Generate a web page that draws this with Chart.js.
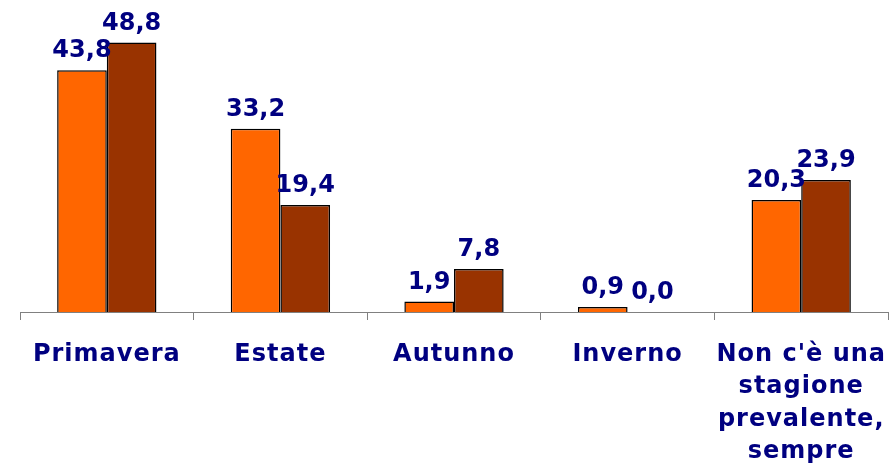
<!DOCTYPE html>
<html>
<head>
<meta charset="utf-8">
<script src="https://cdn.jsdelivr.net/npm/chart.js@4"></script>
<style>
  html, body { margin: 0; padding: 0; background: #fff; }
  #wrap { width: 891px; height: 465px; }
</style>
</head>
<body>
<div id="wrap"><canvas id="seasonChart" width="891" height="465"></canvas></div>
<script>
const categories = [
  "Primavera",
  "Estate",
  "Autunno",
  "Inverno",
  ["Non c'è una", "stagione", "prevalente,", "sempre"]
];
const seriesA = [43.8, 33.2, 1.9, 0.9, 20.3];
const seriesB = [48.8, 19.4, 7.8, 0.0, 23.9];

const NAVY = "#000080";
const FONT = "'DejaVu Sans', Verdana, sans-serif";

// a little extra spacing so DejaVu looks closer to Verdana bold
const spacing = {
  id: "spacing",
  beforeDraw(chart) { chart.ctx.letterSpacing = "1px"; }
};

// write the value above each bar, italian style decimal comma
const valueLabels = {
  id: "valueLabels",
  afterDatasetsDraw(chart) {
    const ctx = chart.ctx;
    ctx.save();
    ctx.letterSpacing = "0px";
    ctx.font = "bold 24px " + FONT;
    ctx.fillStyle = NAVY;
    ctx.textAlign = "center";
    ctx.textBaseline = "alphabetic";
    chart.data.datasets.forEach((ds, di) => {
      chart.getDatasetMeta(di).data.forEach((bar, i) => {
        const txt = ds.data[i].toFixed(1).replace(".", ",");
        ctx.fillText(txt, bar.x, bar.y - 13);
      });
    });
    ctx.restore();
  }
};

new Chart(document.getElementById("seasonChart").getContext("2d"), {
  type: "bar",
  data: {
    labels: categories,
    datasets: [
      {
        data: seriesA,
        backgroundColor: "#FF6600",
        borderColor: "#000000",
        borderWidth: 1.5,
        borderSkipped: "bottom",
        categoryPercentage: 0.572,
        barPercentage: 1
      },
      {
        data: seriesB,
        backgroundColor: "#993300",
        borderColor: "#000000",
        borderWidth: 1.5,
        borderSkipped: "bottom",
        categoryPercentage: 0.572,
        barPercentage: 1
      }
    ]
  },
  options: {
    responsive: false,
    animation: false,
    layout: { padding: { left: 20, right: 3, top: 36, bottom: 0 } },
    plugins: { legend: { display: false }, tooltip: { enabled: false } },
    scales: {
      x: {
        afterFit(scale) { scale.height = 153; scale.paddingRight = 0; scale.paddingLeft = 0; },
        grid: {
          offset: true,
          drawOnChartArea: false,
          drawTicks: true,
          tickLength: 8,
          color: "#808080",
          lineWidth: 1
        },
        border: { color: "#808080", width: 1 },
        ticks: {
          color: NAVY,
          padding: 18,
          maxRotation: 0,
          autoSkip: false,
          font: { family: FONT, size: 24, weight: "bold", lineHeight: 1.36 }
        }
      },
      y: {
        display: false,
        min: 0,
        max: 50
      }
    }
  },
  plugins: [spacing, valueLabels]
});
</script>
</body>
</html>
